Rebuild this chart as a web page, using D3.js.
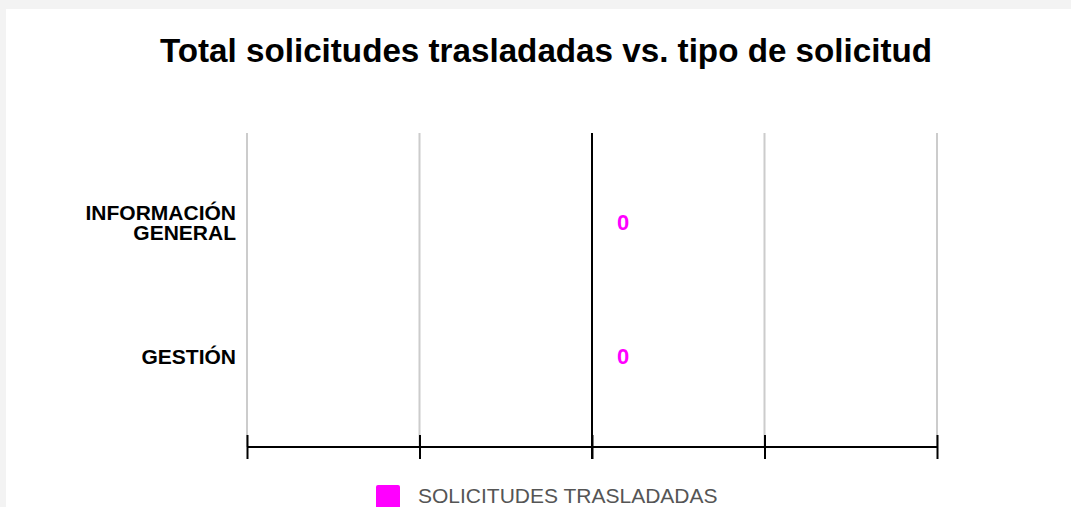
<!DOCTYPE html>
<html><head><meta charset="utf-8">
<script src="https://cdn.jsdelivr.net/npm/d3@7"></script>
<style>
html,body{margin:0;padding:0;background:#f3f3f3;overflow:hidden;}
svg{display:block;}
</style></head>
<body>
<script>
const categories = ["INFORMACIÓN GENERAL", "GESTIÓN"];
const values = [0, 0];
const seriesName = "SOLICITUDES TRASLADADAS";
const tickValues = [-1, -0.5, 0, 0.5, 1];
const title = "Total solicitudes trasladadas vs. tipo de solicitud";

(function () {
const W = 1071, H = 507;
const svg = d3.select("body").append("svg").attr("width", W).attr("height", H);
svg.append("rect").attr("x", 6).attr("y", 9).attr("width", W - 6).attr("height", H - 9).attr("fill", "#fff");

const pLeft = 247, pRight = 937, pTop = 133, axisY = 447;
const x = d3.scaleLinear().domain([-1, 1]).range([pLeft, pRight]);
const y = d3.scalePoint().domain(categories).range([pTop, axisY]).padding(0.67);

svg.append("text").attr("x", 546).attr("y", 62).attr("text-anchor", "middle")
  .attr("font-family", "Liberation Sans, Arial, sans-serif").attr("font-weight", "bold")
  .attr("font-size", 33.2).attr("fill", "#000").text(title);

// gridlines
svg.append("g").selectAll("line").data(tickValues.filter(d => d !== 0)).join("line")
  .attr("x1", d => x(d)).attr("x2", d => x(d)).attr("y1", pTop).attr("y2", axisY)
  .attr("stroke", "#cccccc").attr("stroke-width", 2);

// x axis
const xAxis = d3.axisBottom(x).tickValues(tickValues).tickFormat("").tickSizeInner(12).tickSizeOuter(12);
const gx = svg.append("g").attr("transform", `translate(0,${axisY})`).call(xAxis);
gx.select(".domain").remove();
gx.append("line").attr("x1", pLeft).attr("x2", pRight).attr("stroke", "#000").attr("stroke-width", 2);
gx.selectAll(".tick line").attr("y1", -12).attr("y2", 12).attr("stroke", "#000").attr("stroke-width", 2);

// zero line
svg.append("line").attr("x1", x(0)).attr("x2", x(0)).attr("y1", pTop).attr("y2", axisY + 12)
  .attr("stroke", "#000").attr("stroke-width", 2);

// bars (zero width)
svg.append("g").selectAll("rect").data(values).join("rect")
  .attr("x", d => Math.min(x(0), x(d))).attr("width", d => Math.abs(x(d) - x(0)))
  .attr("y", (d, i) => y(categories[i]) - 20).attr("height", 40).attr("fill", "#ff00ff");

// value labels
svg.append("g").selectAll("text").data(values).join("text")
  .attr("x", d => x(d) + 31).attr("y", (d, i) => y(categories[i]) + 7)
  .attr("text-anchor", "middle").attr("font-family", "Liberation Sans, Arial, sans-serif")
  .attr("font-weight", "bold").attr("font-size", 22).attr("fill", "#ff00ff").text(d => d);

// y labels
const yl = svg.append("g").selectAll("text").data(categories).join("text")
  .attr("text-anchor", "end").attr("font-family", "Liberation Sans, Arial, sans-serif")
  .attr("font-weight", "bold").attr("font-size", 21).attr("fill", "#000");
yl.each(function(d) {
  const words = d.split(" ");
  const t = d3.select(this);
  const lh = 20;
  const cy = y(d);
  const y0 = cy - (words.length - 1) * lh / 2 + 7;
  words.forEach((w, i) => t.append("tspan").attr("x", 236).attr("y", y0 + i * lh).text(w));
});

// legend
svg.append("rect").attr("x", 376).attr("y", 485).attr("width", 24).attr("height", 24).attr("rx", 2).attr("fill", "#ff00ff");
svg.append("text").attr("x", 418).attr("y", 503).attr("font-family", "Liberation Sans, Arial, sans-serif")
  .attr("font-size", 21).attr("fill", "#555").text(seriesName);
})();
</script>
</body></html>
